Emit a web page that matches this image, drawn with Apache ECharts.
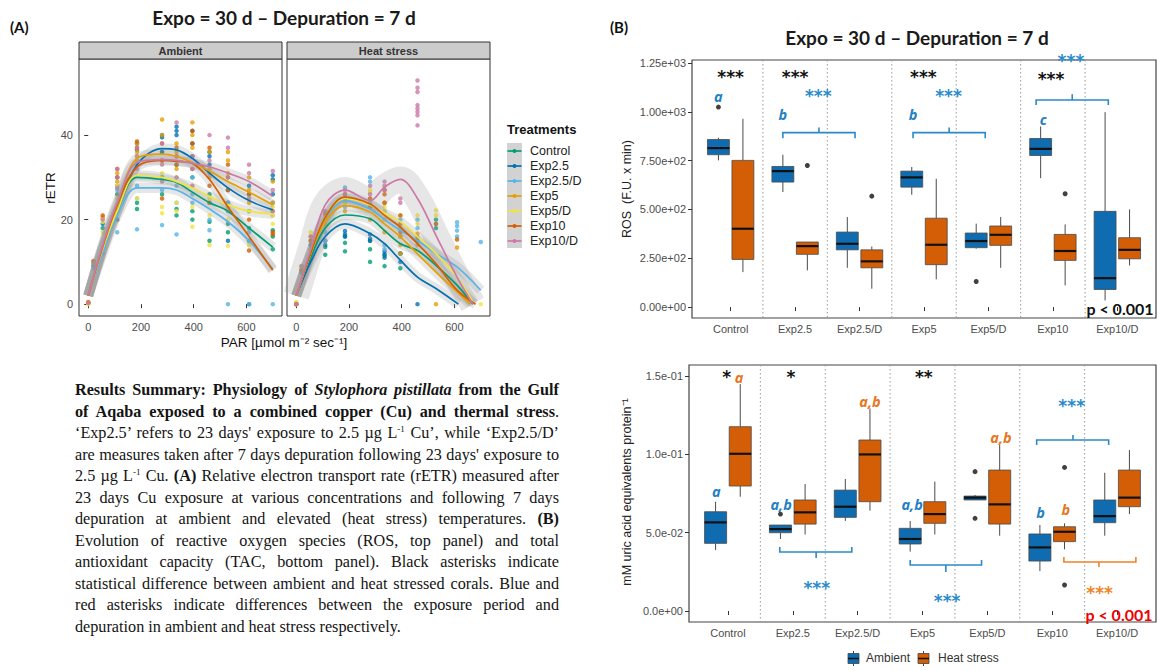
<!DOCTYPE html>
<html><head><meta charset="utf-8">
<script src="https://cdn.jsdelivr.net/npm/echarts@6/dist/echarts.min.js"></script>
<style>
html,body{margin:0;padding:0;background:#fff;}
#chart{position:absolute;left:0;top:0;width:1157px;height:671px;}
#summary{position:absolute;left:75px;top:380px;width:484px;font-family:'Liberation Serif','Times New Roman',serif;font-size:16.2px;line-height:21.5px;color:#141414;}
#summary div{text-align:justify;text-align-last:justify;height:21.5px;}
#summary div.last{text-align-last:left;}
#summary sup{font-size:9px;line-height:0;vertical-align:6px;}
</style></head>
<body>
<div id="chart"></div>
<div id="summary">
<div><b>Results Summary: Physiology of <i>Stylophora pistillata</i> from the Gulf</b></div>
<div><b>of Aqaba exposed to a combined copper (Cu) and thermal stress</b>.</div>
<div>‘Exp2.5’ refers to 23 days' exposure to 2.5 µg L<sup>-1</sup> Cu’, while ‘Exp2.5/D’</div>
<div>are measures taken after 7 days depuration following 23 days' exposure to</div>
<div>2.5 µg L<sup>-1</sup> Cu. <b>(A)</b> Relative electron transport rate (rETR) measured after</div>
<div>23 days Cu exposure at various concentrations and following 7 days</div>
<div>depuration at ambient and elevated (heat stress) temperatures. <b>(B)</b></div>
<div>Evolution of reactive oxygen species (ROS, top panel) and total</div>
<div>antioxidant capacity (TAC, bottom panel). Black asterisks indicate</div>
<div>statistical difference between ambient and heat stressed corals. Blue and</div>
<div>red asterisks indicate differences between the exposure period and</div>
<div class="last">depuration in ambient and heat stress respectively.</div>
</div>
<script>
// ---------------- DATA ----------------
const PAR = [0, 20, 55, 110, 185, 280, 335, 395, 460, 530, 610, 700];
const parTicks = [0, 200, 400, 600];
const retrTicks = [0, 20, 40];
const treatments = ['Control', 'Exp2.5', 'Exp2.5/D', 'Exp5', 'Exp5/D', 'Exp10', 'Exp10/D'];
const treatColors = ['#009E73', '#0072B2', '#56B4E9', '#E69F00', '#F0E442', '#D55E00', '#CC79A7'];

// rETR points (values per PAR step), Ambient facet
const ambControlPts = [[0.3],[9],[18],[26,28],[22.5,24,33],[26,30,36],[21,22.5,33],[20,22,30],[15,19.5,26],[17,19,24],[15,18,22],[13,16,17.5]];
const ambExp25Pts = [[0.3],[9.5],[19],[20,30],[36.5,38],[36,39.5,40],[40,41,42],[35,38,41],[33,35,36],[15,23,27],[0,26,28],[26,29.5,30.5]];
const ambExp25DPts = [[0.2],[8.5],[12],[17,27],[17.7,25,28],[18.7,27,30],[16.5,24,28],[24,26,30],[17.5,20,24],[0,22,24],[0,15,17],[0,21,24]];
const ambExp5Pts = [[0.5],[10],[20.5],[29,31],[34,36,38],[34,40,43.7],[32,36,38],[37,40,43],[30,32,36],[31,34,36],[24,27,30],[22,24,29]];
const ambExp5DPts = [[0,0.3],[9.7,10],[17,19.5,20],[25,28],[25,33,35],[21.5,23,31],[22,24,30],[18.3,23,28],[14,21,25],[13.8,20,23],[14,22,25],[19,21,23]];
const ambExp10Pts = [[0.4],[10.2],[21],[30,32],[37,38.5],[25,34,38],[33,35,37],[32,38,41],[24,28,37],[27,30,33],[12.7,20,26],[16.5,17]];
const ambExp10DPts = [[0.3],[9.8],[20],[27.5,30,32],[32,35,37],[29,33,38],[30,35,43],[28,32,35],[31,34,40],[30,37,39.4],[25,31,33],[22,27,31.5]];

// rETR points, Heat stress facet
const heatControlPts = [[0],[7.5],[13],[11.7,13.5],[12.5,14.5,16],[10,13,15],[9,11.5],[8.5,12],[15],[18,20],[],[]];
const heatExp25Pts = [[0],[8],[14],[14,15],[16,16.5,17.3],[15,15.5,16.5],[11,11.8,12.5],[10,12],[0],[],[],[]];
const heatExp25DPts = [[0.3],[9],[15],[15,17],[23,27.6],[24,29,30],[13,14,22],[16,20],[18,20],[19],[16,17.4,18.5,19.4],[14.7]];
const heatExp5Pts = [[0],[8.5],[16],[19,21],[22,24],[20,23],[17,20,24],[12,14,16,18],[14,16.7],[0],[13.4],[]];
const heatExp5DPts = [[0,0.5],[8,9],[13,15,17],[20,22],[24,25.5],[25,26.5,27],[20,22,23],[18,21],[19,21],[21,22.2],[],[0]];
const heatExp10Pts = [[0],[8],[15],[20,21.5],[25,26],[23,25],[24,26,27],[17,19,21],[15.8],[19],[15.3],[]];
const heatExp10DPts = [[0],[9],[16],[22],[26,27],[26,28],[27,28,29],[24,25],[42.3,44.7,45.5,46.3,47.1,50.2,51.2,52.9],[],[],[]];

// smoothed fits [PAR, rETR]
const ambControlFit = [[0,2],[55,13],[110,22],[185,30],[280,29.5],[335,28.8],[395,26.5],[460,24],[530,22],[610,18],[700,13.5]];
const ambExp25Fit = [[0,2],[55,13],[110,22],[185,33],[280,36.8],[335,36.5],[395,34.5],[460,31],[530,27.5],[610,24.5],[700,22.3]];
const ambExp25DFit = [[0,2],[55,12],[110,21],[185,27.5],[280,27.5],[335,27],[395,25],[460,22.5],[530,19.5],[610,15],[700,8.3]];
const ambExp5Fit = [[0,2],[55,13.5],[110,23],[185,34.5],[280,35.5],[335,35],[395,33.5],[460,31.5],[530,29],[610,26.5],[700,23.5]];
const ambExp5DFit = [[0,2],[55,13],[110,22],[185,30.5],[280,30],[335,29],[395,27.5],[460,25.5],[530,23.5],[610,22],[700,21.3]];
const ambExp10Fit = [[0,2],[55,13.5],[110,23.5],[185,32.5],[280,34],[335,33.8],[395,33.3],[460,29.5],[530,23],[610,16],[700,8]];
const ambExp10DFit = [[0,2],[55,14],[110,24],[185,33.5],[280,34.2],[335,34],[395,33.3],[460,32.5],[530,31],[610,29],[700,25.5]];

const heatControlFit = [[0,2],[55,11],[110,18],[185,21.1],[280,20.2],[335,17.4],[395,14.3],[460,12.7],[530,9.2],[610,4.5],[670,0]];
const heatExp25Fit = [[0,2],[55,10],[110,16],[185,19],[280,16.7],[335,14.3],[395,10.4],[460,6.4],[530,3.7],[615,0]];
const heatExp25DFit = [[0,2],[55,12],[110,20],[185,24.5],[280,22.5],[335,20],[395,17.5],[460,15],[530,12],[610,8.8],[700,3.3]];
const heatExp5Fit = [[0,2],[55,12],[110,19.5],[185,23.3],[280,21.8],[335,19],[395,15.9],[460,11.9],[530,7.6],[610,2.9],[660,0]];
const heatExp5DFit = [[0,2],[55,12],[110,20.5],[185,25],[280,23.5],[335,21.5],[395,19.5],[460,16],[530,12],[610,6.4],[670,0.5]];
const heatExp10Fit = [[0,2],[55,12],[110,20.5],[185,25.3],[280,23.7],[335,21],[395,18.2],[460,14.3],[530,9.6],[610,3.3],[680,0]];
const heatExp10DFit = [[0,2],[55,13],[110,23.5],[185,27],[280,24.5],[335,27.7],[395,29.5],[460,25],[530,16.3],[610,6.4],[670,0]];

// Panel B: boxplots [min, Q1, median, Q3, max] per category
const categories = ['Control', 'Exp2.5', 'Exp2.5/D', 'Exp5', 'Exp5/D', 'Exp10', 'Exp10/D'];
const separators = [1.5, 2.5, 3.5, 4.5, 5.5, 6.5];
const rosTicks = [0, 250, 500, 750, 1000, 1250];
const rosAmbient = [[751,780,814,858,867],[589,640,696,720,780],[201,293,324,384,461],[575,614,664,696,717],[299,304,338,379,427],[660,776,810,863,925],[34,90,148,490,998]];
const rosHeat = [[179,244,401,751,964],[188,270,312,333,333],[94,201,234,293,310],[142,217,319,455,657],[201,316,370,415,461],[111,239,287,372,423],[213,247,293,355,500]];
const rosOutAmbient = [[1,1024],[5,131]];
const rosOutHeat = [[2,725],[3,568],[6,580]];
const rosStars = [[1.0,1178,'***','black'],[2.0,1178,'***','black'],[2.36,1080,'***','blue'],[3.99,1178,'***','black'],[4.38,1080,'***','blue'],[5.97,1166,'***','black'],[6.28,1258,'***','blue']];
const rosLetters = [[0.81,1078,'a','blue'],[1.81,988,'b','blue'],[3.83,988,'b','blue'],[5.85,958,'c','blue']];
const rosBrackets = [[1.81,2.93,893,864,2.37,920,'blue'],[3.83,4.95,893,864,4.39,920,'blue'],[5.74,6.86,1060,1035,6.30,1090,'blue']];

const tacTicks = [0, 0.05, 0.10, 0.15];
const tacAmbient = [[0.0389,0.0432,0.0566,0.0634,0.0698],[0.0460,0.0500,0.0523,0.0549,0.0549],[0.0575,0.0598,0.0666,0.0772,0.0843],[0.0379,0.0428,0.0460,0.0528,0.0575],[0.0709,0.0709,0.0724,0.0734,0.0741],[0.0255,0.0319,0.0406,0.0492,0.0549],[0.0481,0.0564,0.0606,0.0709,0.0883]];
const tacHeat = [[0.0730,0.0798,0.1004,0.1177,0.1449],[0.0489,0.0555,0.0630,0.0709,0.0811],[0.0641,0.0698,0.1000,0.1092,0.1294],[0.0489,0.0560,0.0619,0.0698,0.0826],[0.0481,0.0555,0.0681,0.0900,0.1060],[0.0394,0.0443,0.0506,0.0538,0.0560],[0.0619,0.0666,0.0724,0.0900,0.1028]];
const tacOutAmbient = [[2,0.0619],[5,0.0890],[5,0.0592]];
const tacOutHeat = [[6,0.0917],[6,0.0166]];
const tacStars = [[0.98,0.1494,'*','black'],[1.97,0.1494,'*','black'],[2.37,0.0147,'***','blue'],[4.02,0.1494,'**','black'],[4.38,0.0064,'***','blue'],[6.30,0.131,'***','blue'],[6.73,0.0118,'***','orange']];
const tacLetters = [[1.17,0.1494,'a','orange'],[0.82,0.0760,'a','blue'],[1.82,0.0677,'a,b','blue'],[3.19,0.134,'a,b','orange'],[3.84,0.0683,'a,b','blue'],[5.21,0.1111,'a,b','orange'],[5.82,0.0632,'b','blue'],[6.21,0.0651,'b','orange']];
const tacBrackets = [[1.80,2.91,0.0377,0.0409,2.36,0.0338,'blue'],[3.81,4.91,0.0294,0.0326,4.36,0.0249,'blue'],[5.76,6.87,0.1092,0.1060,6.32,0.1124,'blue'],[6.18,7.29,0.0313,0.0345,6.72,0.0281,'orange']];

// ---------------- STYLE ----------------
const AMB = '#0F6CB0', HEAT = '#D45E05';
const DODGE = 0.19, BOX_W = 0.34;
const annColors = {black:'#111111', blue:'#2A8ACB', orange:'#EE8427'};
const letterColors = {black:'#111111', blue:'#1F80C4', orange:'#E8761E'};
const axisGray = '#4d4d4d';
const sans = '"Liberation Sans", Arial, sans-serif';

const ambPts = [ambControlPts, ambExp25Pts, ambExp25DPts, ambExp5Pts, ambExp5DPts, ambExp10Pts, ambExp10DPts];
const heatPts = [heatControlPts, heatExp25Pts, heatExp25DPts, heatExp5Pts, heatExp5DPts, heatExp10Pts, heatExp10DPts];
const ambFits = [ambControlFit, ambExp25Fit, ambExp25DFit, ambExp5Fit, ambExp5DFit, ambExp10Fit, ambExp10DFit];
const heatFits = [heatControlFit, heatExp25Fit, heatExp25DFit, heatExp5Fit, heatExp5DFit, heatExp10Fit, heatExp10DFit];

function expFmt(v, d){
  const s = v.toExponential(d).split('e');
  const e = parseInt(s[1], 10);
  return s[0] + 'e' + (e < 0 ? '-' : '+') + String(Math.abs(e)).padStart(2, '0');
}

function renderBox(params, api){
  const x = api.value(0);
  const cMin = api.coord([x, api.value(1)]);
  const cQ1 = api.coord([x, api.value(2)]);
  const cMed = api.coord([x, api.value(3)]);
  const cQ3 = api.coord([x, api.value(4)]);
  const cMax = api.coord([x, api.value(5)]);
  const w = api.size([BOX_W, 0])[0];
  const fill = api.visual('color');
  return {type:'group', children:[
    {type:'line', shape:{x1:cMax[0], y1:cMax[1], x2:cQ3[0], y2:cQ3[1]}, style:{stroke:'#4a4a4a', lineWidth:1}},
    {type:'line', shape:{x1:cQ1[0], y1:cQ1[1], x2:cMin[0], y2:cMin[1]}, style:{stroke:'#4a4a4a', lineWidth:1}},
    {type:'rect', shape:{x:cQ3[0]-w/2, y:cQ3[1], width:w, height:Math.max(cQ1[1]-cQ3[1], 1)}, style:{fill:fill, stroke:'#4a4a4a', lineWidth:0.8}},
    {type:'line', shape:{x1:cMed[0]-w/2, y1:cMed[1], x2:cMed[0]+w/2, y2:cMed[1]}, style:{stroke:'#111', lineWidth:2.2}}
  ]};
}
function renderSep(params, api){
  const p = api.coord([api.value(0), api.value(1)]);
  const cs = params.coordSys;
  return {type:'line', shape:{x1:p[0], y1:cs.y, x2:p[0], y2:cs.y + cs.height}, style:{stroke:'#9a9a9a', lineWidth:1, lineDash:[1.5, 2.5]}};
}
function textRenderer(arr, kind){
  return function(params, api){
    const d = arr[params.dataIndex];
    const p = api.coord([d[0], d[1]]);
    const star = kind === 'star';
    return {type:'text', x:p[0], y:p[1], style:{
      text:d[2], fill: star ? annColors[d[3]] : letterColors[d[3]],
      font: star ? 'bold 17px "DejaVu Sans"' : 'italic bold 14.5px "Open Sans"',
      lineHeight: star ? 11 : 13,
      align:'center', verticalAlign:'middle'}};
  };
}
function bracketRenderer(arr){
  return function(params, api){
    const d = arr[params.dataIndex];
    const col = annColors[d[6]];
    const a = api.coord([d[0], d[3]]), b = api.coord([d[0], d[2]]);
    const c = api.coord([d[1], d[2]]), e = api.coord([d[1], d[3]]);
    const m1 = api.coord([d[4], d[2]]), m2 = api.coord([d[4], d[5]]);
    return {type:'group', children:[
      {type:'polyline', shape:{points:[a, b, c, e]}, style:{stroke:col, lineWidth:1.6, fill:null}},
      {type:'line', shape:{x1:m1[0], y1:m1[1], x2:m2[0], y2:m2[1]}, style:{stroke:col, lineWidth:1.6}}
    ]};
  };
}

// ---------------- SERIES ----------------
const series = [];
[[ambPts, ambFits, 0], [heatPts, heatFits, 1]].forEach(([pts, fits, gi]) => {
  treatments.forEach((t, k) => {
    series.push({type:'scatter', name:t, xAxisIndex:gi, yAxisIndex:gi, silent:true, z:2,
      data: pts[k].flatMap((vals, i) => vals.map(v => [PAR[i], v])),
      symbolSize:4.5, itemStyle:{color:treatColors[k]}});
  });
  treatments.forEach((t, k) => {
    const wide = (gi === 1 && k === 6) ? 26 : 10;
    series.push({type:'line', xAxisIndex:gi, yAxisIndex:gi, silent:true, z:3, data:fits[k],
      smooth:0.35, symbol:'none', lineStyle:{width:wide, color:'rgba(150,150,150,0.24)', cap:'butt'}});
  });
  treatments.forEach((t, k) => {
    series.push({type:'line', name:t, xAxisIndex:gi, yAxisIndex:gi, silent:true, z:4, data:fits[k],
      smooth:0.35, symbol:'none', lineStyle:{width:1.7, color:treatColors[k]}});
  });
});

[[2, rosAmbient, rosHeat, rosOutAmbient, rosOutHeat, rosStars, rosLetters, rosBrackets],
 [3, tacAmbient, tacHeat, tacOutAmbient, tacOutHeat, tacStars, tacLetters, tacBrackets]].forEach(
 ([gi, amb, heat, oAmb, oHeat, stars, letters, brackets]) => {
  series.push({type:'custom', xAxisIndex:gi, yAxisIndex:gi, silent:true, z:1,
    data: separators.map(v => [v, 0]), encode:{x:0, y:1}, renderItem:renderSep});
  [[amb, -DODGE, AMB], [heat, DODGE, HEAT]].forEach(([arr, off, col]) => {
    series.push({type:'custom', xAxisIndex:gi, yAxisIndex:gi, silent:true, z:3, itemStyle:{color:col},
      data: arr.map((d, i) => [i + 1 + off].concat(d)), encode:{x:0, y:[1,2,3,4,5]}, renderItem:renderBox});
  });
  [[oAmb, -DODGE], [oHeat, DODGE]].forEach(([arr, off]) => {
    series.push({type:'scatter', xAxisIndex:gi, yAxisIndex:gi, silent:true, z:4, symbolSize:5,
      itemStyle:{color:'#111'}, data: arr.map(d => [d[0] + off, d[1]])});
  });
  series.push({type:'custom', xAxisIndex:gi, yAxisIndex:gi, silent:true, z:5,
    data: brackets.map(d => [d[0], d[2]]), encode:{x:0, y:1}, renderItem:bracketRenderer(brackets)});
  series.push({type:'custom', xAxisIndex:gi, yAxisIndex:gi, silent:true, z:5,
    data: stars.map(d => [d[0], d[1]]), encode:{x:0, y:1}, renderItem:textRenderer(stars, 'star')});
  series.push({type:'custom', xAxisIndex:gi, yAxisIndex:gi, silent:true, z:5,
    data: letters.map(d => [d[0], d[1]]), encode:{x:0, y:1}, renderItem:textRenderer(letters, 'letter')});
});

// ---------------- AXES ----------------
const tickStyle = {show:true, inside:false, length:4, lineStyle:{color:'#333', width:1}};
function xA(gi, min, max, vals, fmt){
  return {gridIndex:gi, type:'value', min:min, max:max, axisLine:{show:false}, splitLine:{show:false},
    axisTick:Object.assign({customValues:vals}, tickStyle),
    axisLabel:{customValues:vals, color:axisGray, fontSize:11, fontFamily:sans, margin:5, formatter:fmt}};
}
function yA(gi, min, max, vals, fmt, show){
  return {gridIndex:gi, type:'value', min:min, max:max, axisLine:{show:false}, splitLine:{show:false},
    axisTick:Object.assign({customValues:vals}, tickStyle, {show:show}),
    axisLabel:{show:show, customValues:vals, color:axisGray, fontSize:11, fontFamily:sans, margin:6, formatter:fmt}};
}
const catFmt = v => categories[Math.round(v) - 1] || '';

// ---------------- GRAPHICS ----------------
const g = [];
g.push({type:'text', left:10, top:19, style:{text:'(A)', font:'bold 15px Lato', fill:'#111'}});
g.push({type:'text', left:610, top:19, style:{text:'(B)', font:'bold 15px Lato', fill:'#111'}});
g.push({type:'text', x:284, y:17, style:{text:'Expo = 30 d \u2013 Depuration = 7 d', font:'bold 19px Lato', fill:'#1a1a1a', align:'center', verticalAlign:'middle'}});
g.push({type:'text', x:917, y:37, style:{text:'Expo = 30 d \u2013 Depuration = 7 d', font:'bold 19px Lato', fill:'#1a1a1a', align:'center', verticalAlign:'middle'}});
// facet strips
[[79, 'Ambient'], [287, 'Heat stress']].forEach(([x, t]) => {
  g.push({type:'rect', shape:{x:x, y:42, width:203, height:17}, style:{fill:'#cccccc', stroke:'#333', lineWidth:1}});
  g.push({type:'text', x:x + 101.5, y:50.5, style:{text:t, font:'bold 11px ' + sans, fill:'#333', align:'center', verticalAlign:'middle'}});
});
// axis titles
g.push({type:'text', x:50, y:188, rotation:Math.PI/2, style:{text:'rETR', font:'13.5px ' + sans, fill:'#111', align:'center', verticalAlign:'middle'}});
g.push({type:'text', x:284, y:342, style:{text:'PAR [\u00b5mol m\u207b\u00b2 sec\u207b\u00b9]', font:'13.5px ' + sans, fill:'#111', align:'center', verticalAlign:'middle'}});
g.push({type:'text', x:627, y:189, rotation:Math.PI/2, style:{text:'ROS  (F.U. x min)', font:'12.5px ' + sans, fill:'#222', align:'center', verticalAlign:'middle'}});
g.push({type:'text', x:627, y:492, rotation:Math.PI/2, style:{text:'mM uric acid equivalents protein\u207b\u00b9', font:'12.5px ' + sans, fill:'#222', align:'center', verticalAlign:'middle'}});
// p-values
g.push({type:'text', x:1120, y:308, style:{text:'p < 0.001', font:'bold 16px Lato', fill:'#111', align:'center', verticalAlign:'middle'}});
g.push({type:'text', x:1119, y:614, style:{text:'p < 0.001', font:'bold 16px Lato', fill:'#F00000', align:'center', verticalAlign:'middle', lineHeight:13}});
// legend A
g.push({type:'text', left:507, top:123, style:{text:'Treatments', font:'bold 13px ' + sans, fill:'#111'}});
g.push({type:'rect', shape:{x:507, y:143, width:15, height:105}, style:{fill:'#d2d2d2'}});
treatments.forEach((t, k) => {
  const y = 151 + k * 15;
  g.push({type:'line', shape:{x1:507.5, y1:y, x2:521.5, y2:y}, style:{stroke:treatColors[k], lineWidth:1.7}});
  g.push({type:'circle', shape:{cx:514.5, cy:y, r:2}, style:{fill:treatColors[k]}});
  g.push({type:'text', left:530, top:y - 7, style:{text:t, font:'12.5px ' + sans, fill:'#222'}});
});
// legend B
[[848, AMB, 'Ambient', 866], [918, HEAT, 'Heat stress', 938]].forEach(([x, col, t, tx]) => {
  g.push({type:'line', shape:{x1:x + 5.5, y1:651, x2:x + 5.5, y2:666}, style:{stroke:'#444', lineWidth:1}});
  g.push({type:'rect', shape:{x:x, y:653.5, width:11, height:10}, style:{fill:col, stroke:'#444', lineWidth:0.8}});
  g.push({type:'line', shape:{x1:x, y1:658.5, x2:x + 11, y2:658.5}, style:{stroke:'#111', lineWidth:1.5}});
  g.push({type:'text', left:tx, top:652, style:{text:t, font:'12px ' + sans, fill:'#333'}});
});

const gridBase = {show:true, borderColor:'#333', borderWidth:1, backgroundColor:'#fff', containLabel:false, outerBoundsMode:'none'};
const option = {
  animation:false,
  backgroundColor:'#fff',
  textStyle:{fontFamily:sans},
  grid:[
    Object.assign({left:79, top:59, width:203, height:257}, gridBase),
    Object.assign({left:287, top:59, width:203, height:257}, gridBase),
    Object.assign({left:692, top:60, width:464, height:258}, gridBase, {borderColor:'#444', borderWidth:1.2}),
    Object.assign({left:689, top:365, width:467, height:257}, gridBase, {borderColor:'#444', borderWidth:1.2})
  ],
  xAxis:[
    xA(0, -35, 735, parTicks, v => String(v)),
    xA(1, -35, 735, parTicks, v => String(v)),
    xA(2, 0.4, 7.6, [1,2,3,4,5,6,7], catFmt),
    xA(3, 0.4, 7.6, [1,2,3,4,5,6,7], catFmt)
  ],
  yAxis:[
    yA(0, -2.8, 58, retrTicks, v => String(v), true),
    yA(1, -2.8, 58, retrTicks, v => String(v), false),
    yA(2, -56, 1265, rosTicks, v => expFmt(v, 2), true),
    yA(3, -0.00702, 0.1571, tacTicks, v => expFmt(v, 1), true)
  ],
  graphic:{elements:g},
  series:series
};
const chart = echarts.init(document.getElementById('chart'), null, {renderer:'svg', width:1157, height:671});
chart.setOption(option);
</script>
</body></html>
